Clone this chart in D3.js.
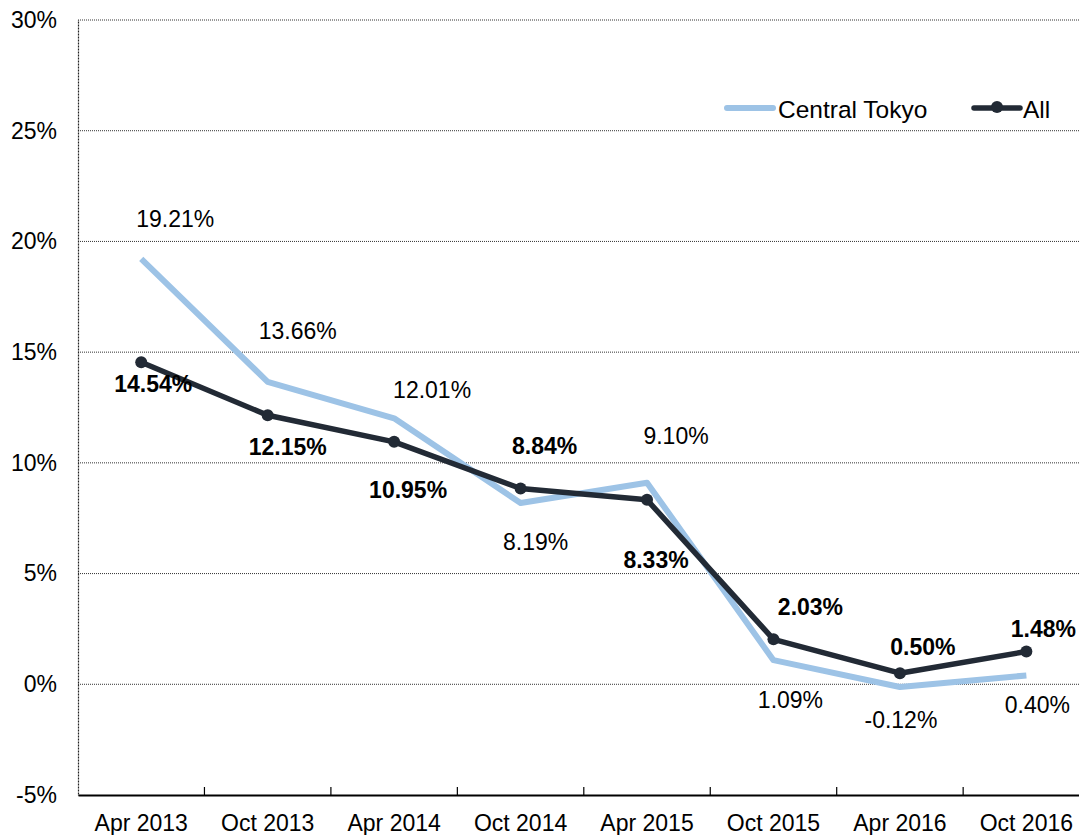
<!DOCTYPE html>
<html><head><meta charset="utf-8">
<script src="https://cdn.jsdelivr.net/npm/d3@7"></script>
<style>body{margin:0;background:#fff;} text{font-family:"Liberation Sans",Arial,sans-serif;}</style>
</head><body>
<svg id="c" width="1079" height="835"></svg>
<script>
const categories = ["Apr 2013","Oct 2013","Apr 2014","Oct 2014","Apr 2015","Oct 2015","Apr 2016","Oct 2016"];
const centralTokyo = [19.21, 13.66, 12.01, 8.19, 9.10, 1.09, -0.12, 0.40];
const allValues = [14.54, 12.15, 10.95, 8.84, 8.33, 2.03, 0.50, 1.48];
const yTicks = [-5, 0, 5, 10, 15, 20, 25, 30];
const seriesNames = ["Central Tokyo", "All"];

// label placement (styling only): offsets from point in px
const ctOffsets = [[34,-40],[30,-51],[38,-28],[15,39],[29,-47],[17,40],[1,33],[11,30]];
const allOffsets = [[12,22],[20,32],[14,48],[24,-43],[9,60],[37,-32],[23,-26],[17,-23]];

const FS = 23;
const svg = d3.select("#c");
const L = 78, T = 20, B = 795, bandW = 126.45;
const R = L + bandW * categories.length;
const x = d3.scaleBand().domain(categories).range([L, R]).padding(0);
const y = d3.scaleLinear().domain([-5, 30]).range([B, T]);
const cx = d => x(d) + x.bandwidth()/2;

// gridlines
svg.append("g").selectAll("line").data(yTicks.filter(v => v > -5)).join("line")
  .attr("x1", L).attr("x2", R).attr("y1", d => y(d)).attr("y2", d => y(d))
  .attr("stroke", "#333").attr("stroke-width", 1).attr("stroke-dasharray", "1,1");

// y axis
const yAxis = d3.axisLeft(y).tickValues(yTicks).tickSize(0).tickPadding(21).tickFormat(d => d + "%");
const ya = svg.append("g").attr("transform", `translate(${L},0)`).call(yAxis);
ya.select(".domain").attr("stroke", "#222").attr("stroke-width", 1.2).attr("stroke-dasharray", "1,0.5");
ya.selectAll("text").attr("font-size", FS).attr("fill", "#000");

// x axis
const xAxis = d3.axisBottom(x).tickSize(0).tickPadding(20);
const xa = svg.append("g").attr("transform", `translate(0,${B})`).call(xAxis);
xa.select(".domain").attr("stroke", "#000").attr("stroke-width", 2);
xa.selectAll("text").attr("font-size", FS).attr("fill", "#000");
svg.append("g").selectAll("line").data(categories.slice(1)).join("line")
  .attr("x1", d => x(d)).attr("x2", d => x(d)).attr("y1", B).attr("y2", B - 8)
  .attr("stroke", "#000").attr("stroke-width", 1.2);

const line = d3.line().x((d,i) => cx(categories[i])).y(d => y(d));
const blue = "#9DC3E6", dark = "#222A35";

svg.append("path").datum(centralTokyo).attr("d", line).attr("fill", "none")
  .attr("stroke", blue).attr("stroke-width", 6).attr("stroke-linejoin", "round");
svg.append("path").datum(allValues).attr("d", line).attr("fill", "none")
  .attr("stroke", dark).attr("stroke-width", 5.5).attr("stroke-linejoin", "round");
svg.append("g").selectAll("circle").data(allValues).join("circle")
  .attr("cx", (d,i) => cx(categories[i])).attr("cy", d => y(d)).attr("r", 6).attr("fill", dark);

// labels
svg.append("g").selectAll("text").data(centralTokyo).join("text")
  .attr("x", (d,i) => cx(categories[i]) + ctOffsets[i][0])
  .attr("y", (d,i) => y(d) + ctOffsets[i][1])
  .attr("text-anchor", "middle").attr("dominant-baseline", "central")
  .attr("font-size", FS).attr("fill", "#000").text(d => d.toFixed(2) + "%");
svg.append("g").selectAll("text").data(allValues).join("text")
  .attr("x", (d,i) => cx(categories[i]) + allOffsets[i][0])
  .attr("y", (d,i) => y(d) + allOffsets[i][1])
  .attr("text-anchor", "middle").attr("dominant-baseline", "central")
  .attr("font-size", FS).attr("font-weight", "bold").attr("fill", "#000").text(d => d.toFixed(2) + "%");

// legend
const lg = svg.append("g");
lg.append("line").attr("x1", 727).attr("x2", 773).attr("y1", 108).attr("y2", 108)
  .attr("stroke", blue).attr("stroke-width", 6).attr("stroke-linecap", "round");
lg.append("text").attr("x", 778).attr("y", 109).attr("dominant-baseline", "central")
  .attr("font-size", 24.5).text(seriesNames[0]);
lg.append("line").attr("x1", 974).attr("x2", 1020).attr("y1", 108).attr("y2", 108)
  .attr("stroke", dark).attr("stroke-width", 5.5).attr("stroke-linecap", "round");
lg.append("circle").attr("cx", 997).attr("cy", 107).attr("r", 6).attr("fill", dark);
lg.append("text").attr("x", 1023).attr("y", 109).attr("dominant-baseline", "central")
  .attr("font-size", 24.5).text(seriesNames[1]);
</script>
</body></html>
